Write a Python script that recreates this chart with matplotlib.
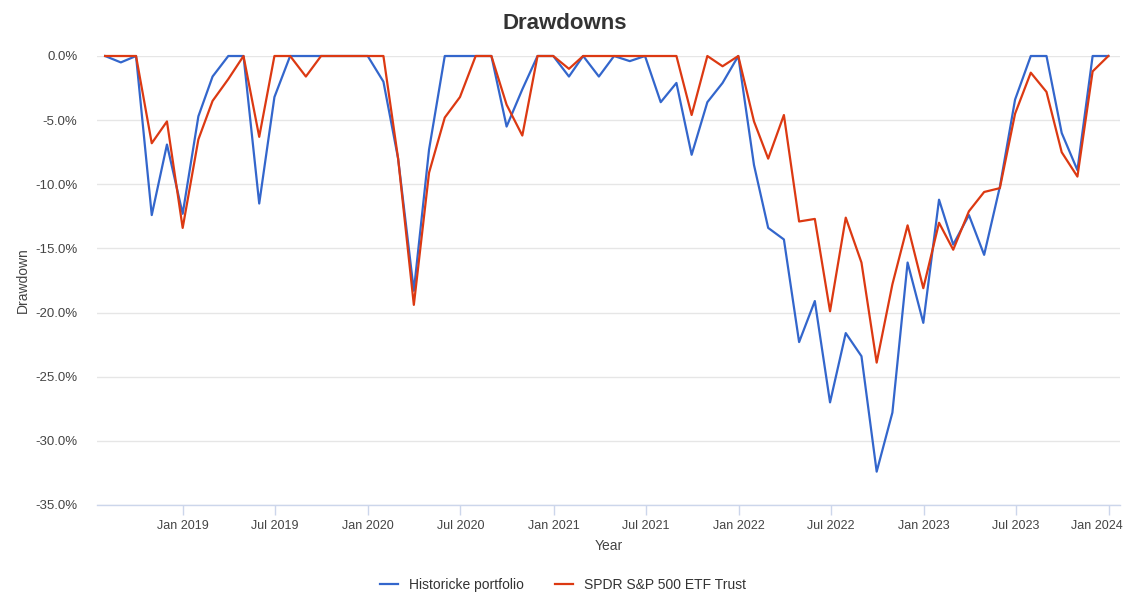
import matplotlib

matplotlib.use("Agg")

import matplotlib.dates as mdates
import matplotlib.pyplot as plt
import pandas as pd
from matplotlib.ticker import FuncFormatter, MultipleLocator
from matplotlib.transforms import ScaledTranslation

# month-end observations, Jul 2018 .. Dec 2023
first_month = "2018-07-31"
n_months = 66

portfolio_dd = [
    0.0, -0.5, 0.0, -12.4, -6.9, -12.3, -4.7, -1.6, 0.0, 0.0, -11.5, -3.2,
    0.0, 0.0, 0.0, 0.0, 0.0, 0.0, -2.0, -8.0, -18.3, -7.3, 0.0, 0.0,
    0.0, 0.0, -5.5, -2.6, 0.0, 0.0, -1.6, 0.0, -1.6, 0.0, -0.4, 0.0,
    -3.6, -2.1, -7.7, -3.6, -2.1, 0.0, -8.5, -13.4, -14.3, -22.3, -19.1, -27.0,
    -21.6, -23.4, -32.4, -27.8, -16.1, -20.8, -11.2, -14.7, -12.4, -15.5, -10.2, -3.4,
    0.0, 0.0, -6.0, -8.9, 0.0, 0.0,
]
spy_dd = [
    0.0, 0.0, 0.0, -6.8, -5.1, -13.4, -6.5, -3.5, -1.8, 0.0, -6.3, 0.0,
    0.0, -1.6, 0.0, 0.0, 0.0, 0.0, 0.0, -8.0, -19.4, -9.1, -4.8, -3.2,
    0.0, 0.0, -3.8, -6.2, 0.0, 0.0, -1.0, 0.0, 0.0, 0.0, 0.0, 0.0,
    0.0, 0.0, -4.6, 0.0, -0.8, 0.0, -5.1, -8.0, -4.6, -12.9, -12.7, -19.9,
    -12.6, -16.1, -23.9, -17.8, -13.2, -18.1, -13.0, -15.1, -12.1, -10.6, -10.3, -4.5,
    -1.3, -2.8, -7.5, -9.4, -1.2, 0.0,
]
series_names = ["Historicke portfolio", "SPDR S&P 500 ETF Trust"]
series_colors = ["#3366cc", "#dc3912"]

tick_dates = pd.date_range("2019-01-01", "2024-01-01", freq="6MS")

dates = pd.date_range(first_month, periods=n_months, freq="ME")

plt.rcParams["font.family"] = ["Liberation Sans", "DejaVu Sans"]

fig = plt.figure(figsize=(11.26, 5.94), dpi=100)
ax = fig.add_axes([97 / 1126, 89 / 594, 1023 / 1126, 449 / 594])

for vals, name, col in zip([portfolio_dd, spy_dd], series_names, series_colors):
    ax.plot(dates, vals, color=col, linewidth=1.6, label=name, clip_on=False, zorder=3)

ax.set_ylim(-35, 0)
ax.set_xlim(pd.Timestamp("2018-07-15"), pd.Timestamp("2024-01-23"))

ax.yaxis.set_major_locator(MultipleLocator(5))
ax.yaxis.set_major_formatter(FuncFormatter(lambda v, _: f"{v:.1f}%"))
ax.set_xticks(tick_dates)
ax.xaxis.set_major_formatter(mdates.DateFormatter("%b %Y"))

ax.grid(axis="y", color="#e6e6e6", linewidth=1.0, zorder=0)
for side in ["top", "right", "left"]:
    ax.spines[side].set_visible(False)
ax.spines["bottom"].set_color("#ccd6eb")
ax.spines["bottom"].set_linewidth(1.0)

ax.tick_params(axis="y", length=0, pad=14, labelsize=9.5, labelcolor="#444444")
ax.tick_params(axis="x", length=7.5, width=1.0, color="#ccd6eb", pad=3,
               labelsize=9, labelcolor="#444444")

# keep the last date label inside the figure, as the original does
last_lbl = ax.xaxis.get_major_ticks()[-1].label1
last_lbl.set_transform(last_lbl.get_transform() + ScaledTranslation(-0.12, 0, fig.dpi_scale_trans))

ax.set_xlabel("Year", fontsize=10, color="#444444", labelpad=5)
ax.set_ylabel("Drawdown", fontsize=10, color="#444444", labelpad=4)
fig.suptitle("Drawdowns", x=565 / 1126, y=0.978, fontsize=16, fontweight="bold",
             color="#333333")

fig.legend(loc="lower center", bbox_to_anchor=(0.5, -0.018), ncol=2, frameon=False,
           fontsize=10, handlelength=1.3, columnspacing=2.2, labelcolor="#333333")

fig.savefig("out.png", dpi=100)
